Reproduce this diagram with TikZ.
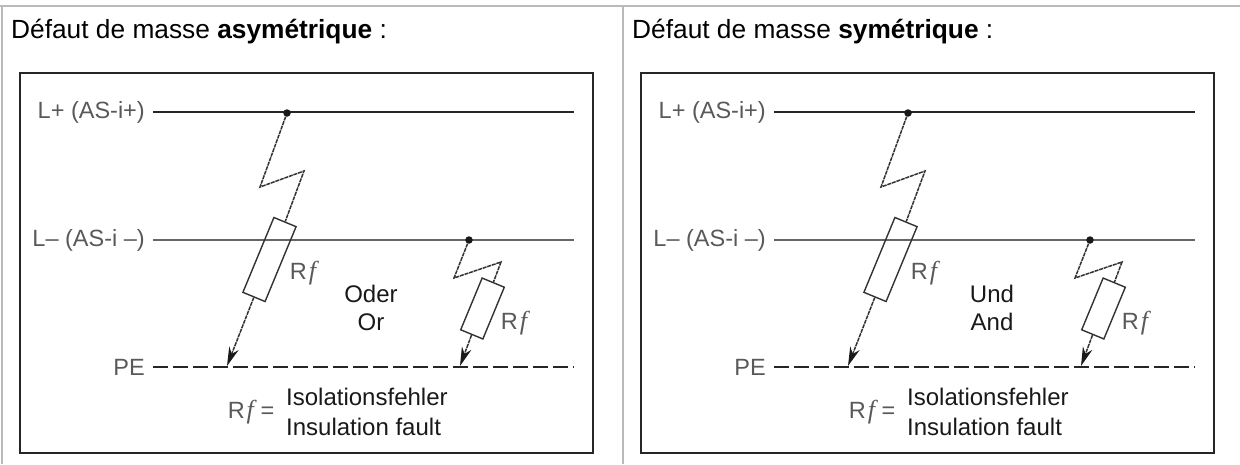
\documentclass[tikz,border=0pt]{standalone}
\usepackage{fontspec}
\usetikzlibrary{arrows.meta}
\setmainfont{Liberation Sans}
\newfontfamily\rffont{Liberation Serif}
\newcommand{\Rf}{R\hspace{2pt}{\rffont\itshape\fontsize{26}{26}\selectfont f}}
\tikzset{
  cellline/.style={draw=black!27, line width=1.5pt},
  frameline/.style={draw=black!85, line width=2pt},
  busplus/.style={line width=2pt, black!85},
  busminus/.style={line width=1.4pt, black!60},
  buspe/.style={line width=1.7pt, black!85, dash pattern=on 15pt off 5pt},
  busname/.style={anchor=east, inner sep=0pt, font=\fontsize{23.5}{26}\selectfont, text=black!65},
  bolt/.style={line width=1.5pt, black!80, dash pattern=on 4pt off 0.8pt},
  faultres/.style={draw=black!80, line width=1.4pt, rotate=67.5, minimum height=24pt, inner sep=0pt},
  junction/.style={circle, fill=black!90, inner sep=0pt, minimum size=7.5pt},
  rflabel/.style={inner sep=0pt, font=\fontsize{23.5}{26}\selectfont, text=black!65},
  plainlabel/.style={inner sep=0pt, font=\fontsize{24}{26}\selectfont, text=black!90},
  headline/.style={anchor=west, inner sep=0pt, font=\fontsize{26.3}{30}\selectfont, text=black},
  faulttip/.style={-{Stealth[length=19pt,width=10pt,inset=6pt,black!90]}}
}
\newcommand{\faultpanel}[4]{
\begin{scope}[xshift=#1]
\node[headline] (head#1) at (11,32) {D\'efaut de masse \textbf{#2} :};
\path[frameline] (20,73) rectangle (593,453);

\coordinate (plusA#1) at (153,112);
\coordinate (plusB#1) at (574,112);
\coordinate (minusA#1) at (153,240);
\coordinate (minusB#1) at (574,240);
\coordinate (peA#1) at (153,367);
\coordinate (peB#1) at (574,367);
\draw[busplus] (plusA#1) -- (plusB#1);
\draw[busminus] (minusA#1) -- (minusB#1);
\draw[buspe] (peA#1) -- (peB#1);
\node[busname] (nplus#1) at (145,112) {L+ (AS-i+)};
\node[busname] (nminus#1) at (145,240) {L-- (AS-i --)};
\node[busname] (npe#1) at (145,367) {PE};

\node[junction] (j1#1) at (287,113) {};
\coordinate (k1#1) at (260,187);
\coordinate (k2#1) at (304,171);
\node[faultres, minimum width=81pt] (r1#1) at (269.5,259.5) {};
\coordinate (t1#1) at (227,366);
\draw[bolt] (j1#1) -- (k1#1) -- (k2#1) -- (r1#1.east);
\draw[bolt, faulttip] (r1#1.west) -- (t1#1);

\node[junction] (j2#1) at (469,240) {};
\coordinate (k3#1) at (454,278);
\coordinate (k4#1) at (501,262);
\node[faultres, minimum width=56pt] (r2#1) at (482.5,308.5) {};
\coordinate (t2#1) at (460,366);
\draw[bolt] (j2#1) -- (k3#1) -- (k4#1) -- (r2#1.east);
\draw[bolt, faulttip] (r2#1.west) -- (t2#1);

\node[rflabel] (rf1#1) at (303,273) {\Rf};
\node[rflabel] (rf2#1) at (514,323) {\Rf};
\node[plainlabel] (w1#1) at (371,294) {#3};
\node[plainlabel] (w2#1) at (371,322) {#4};
\node[rflabel] (rf3#1) at (251,412) {\Rf{} =};
\node[plainlabel, anchor=west] (iso#1) at (286,397) {Isolationsfehler};
\node[plainlabel, anchor=west] (ins#1) at (286,427) {Insulation fault};
\end{scope}
}
\begin{document}
\begin{tikzpicture}[x=1pt, y=-1pt]
\useasboundingbox (0,0) rectangle (1240,464);
\path[cellline] (0,6) -- (1240,6);
\path[cellline] (2,6) -- (2,464);
\path[cellline] (623,6) -- (623,464);

\faultpanel{0}{asym\'etrique}{Oder}{Or}
\faultpanel{621}{sym\'etrique}{Und}{And}
\end{tikzpicture}
\end{document}
